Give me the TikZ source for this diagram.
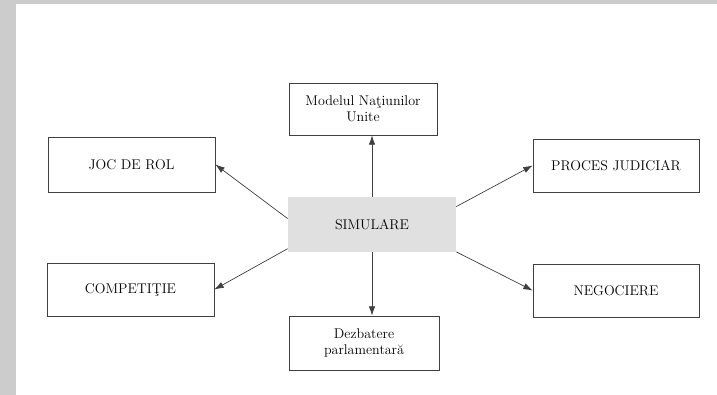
\documentclass[tikz,border=0pt]{standalone}
\usepackage{tikz}
\usetikzlibrary{arrows.meta}
\usetikzlibrary{positioning}
\definecolor{sgrey}{rgb}{0.8, 0.8, 0.8}
\definecolor{sshade}{rgb}{0.88, 0.88, 0.88}

\begin{document}
\begin{tikzpicture}[x=0.03cm, y=-0.03cm,
    box/.style={draw=black!75, line width=0.6pt, minimum width=166*0.03cm,
      minimum height=53*0.03cm, align=center, inner sep=2pt,
      font=\fontsize{12}{14}\selectfont},
    link/.style={-{Latex[length=8pt, width=5.5pt]}, draw=black!75, line width=0.6pt}]
    % page
    \fill [white] (0, 0) rectangle (717, 395);
    \fill [sgrey] (0, 0) rectangle (16, 395);
    \fill [sgrey] (0, 0) rectangle (717, 4);

    \node [box, fill=sshade, draw=none, minimum width=168*0.03cm, minimum height=55*0.03cm] (sim) at (372, 224.5) {SIMULARE};
    \node [box, minimum width=148*0.03cm, minimum height=52*0.03cm] (mod) at (363, 109) {Modelul Naţiunilor\\Unite};
    \node [box, minimum width=150*0.03cm, minimum height=54*0.03cm] (dez) at (364, 343) {Dezbatere\\parlamentară};
    \node [box, minimum width=167*0.03cm, minimum height=55*0.03cm] (joc) at (131.5, 164.5) {JOC DE ROL};
    \node [box, minimum width=167*0.03cm] (comp) at (130.5, 289.5) {COMPETIŢIE};
    \node [box] (proc) at (616, 165.5) {PROCES JUDICIAR};
    \node [box] (neg) at (616, 290.5) {NEGOCIERE};

    \draw [link] (sim.north) -- (sim.north |- mod.south);
    \draw [link] (sim.south) -- (sim.south |- dez.north);
    \draw [link] (sim.176) -- (joc.east);
    \draw [link] (sim.196) -- (comp.east);
    \draw [link] (sim.12) -- (proc.west);
    \draw [link] (sim.342) -- (neg.west);
  \end{tikzpicture}
\end{document}
